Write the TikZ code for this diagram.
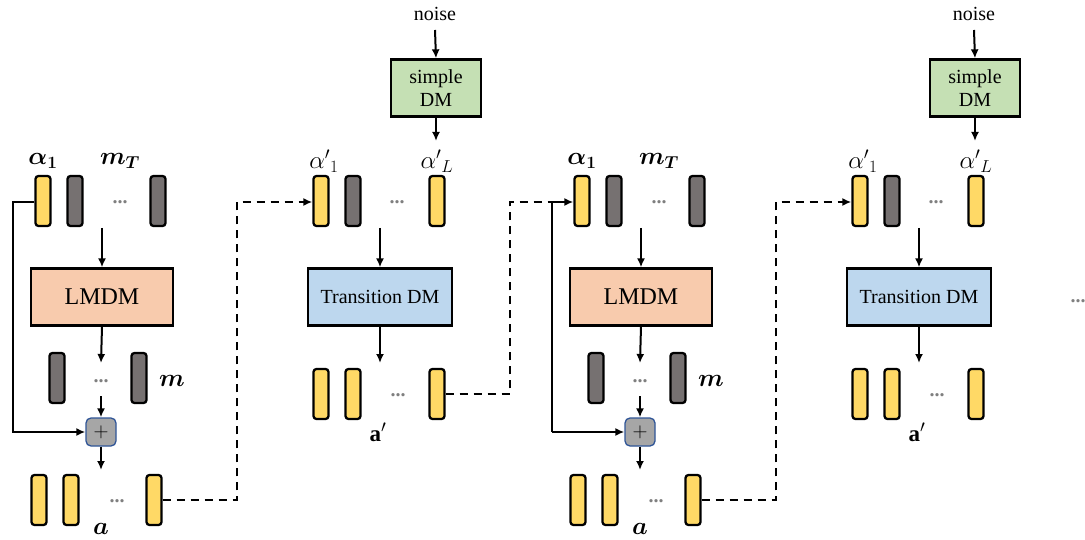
\documentclass[tikz,border=0pt]{standalone}
\usepackage{fontspec}
\usepackage{amsmath}
\usepackage{bm}
\setmainfont{Liberation Serif}
\usetikzlibrary{arrows.meta}
\definecolor{ycol}{HTML}{FFD966}
\definecolor{gcol}{HTML}{767171}
\definecolor{lmdmc}{HTML}{F8CBAD}
\definecolor{tdmc}{HTML}{BDD7EE}
\definecolor{sdmc}{HTML}{C5E0B4}
\definecolor{plusfill}{HTML}{A6A6A6}
\definecolor{plusdraw}{HTML}{2F5597}
\definecolor{dotc}{HTML}{7F7F7F}
\tikzset{
  barbase/.style={draw=black, line width=2.3pt, rounded corners=3pt, minimum width=15pt, minimum height=50pt, inner sep=0pt},
  yelbar/.style={barbase, fill=ycol},
  grybar/.style={barbase, fill=gcol},
  bigbox/.style={draw=black, line width=2.3pt, minimum width=142pt, minimum height=57pt, inner sep=0pt},
  tip/.style={-{Latex[length=9pt,width=8pt]}},
  arr/.style={tip, line width=2pt},
  line/.style={line width=2pt},
  dashconn/.style={line width=2pt, dash pattern=on 8pt off 6pt},
  dotsty/.style={text=dotc, font=\fontsize{20}{20}\selectfont\bfseries, inner sep=0pt},
  lab/.style={font=\fontsize{20}{23}\selectfont, inner sep=0pt},
  mlab/.style={font=\fontsize{23}{26}\selectfont, inner sep=0pt},
  plusbox/.style={draw=plusdraw, fill=plusfill, line width=1.3pt, rounded corners=5pt, minimum width=30pt, minimum height=28pt, inner sep=0pt, font=\fontsize{20}{20}\selectfont}
}
\newcommand\lmblock[2]{%
  \node[yelbar] (aone#1) at ({#2+43},201) {};
  \node[grybar] (mtb#1) at ({#2+75},201) {};
  \node[grybar] (mtc#1) at ({#2+158},201) {};
  \node[dotsty] (dta#1) at ({#2+120},202) {...};
  \node[mlab] (laa#1) at ({#2+43},161) {$\bm{\alpha_1}$};
  \node[mlab] (lmt#1) at ({#2+120},161) {$\bm{m_T}$};
  \node[bigbox, fill=lmdmc, font=\fontsize{24}{26}\selectfont] (lmdm#1) at ({#2+102},297) {LMDM};
  \coordinate (inl#1) at ({#2+102},228);
  \draw[arr] (inl#1) -- (lmdm#1.north);
  \node[grybar] (mba#1) at ({#2+57},378) {};
  \node[grybar] (mbb#1) at ({#2+139},378) {};
  \node[dotsty] (dtb#1) at ({#2+101},381) {...};
  \node[mlab] (lmm#1) at ({#2+172},381) {$\bm{m}$};
  \coordinate (outl#1) at ({#2+101},363);
  \draw[arr] (lmdm#1.south) -- (outl#1);
  \node[plusbox] (plus#1) at ({#2+101},432) {$+$};
  \coordinate (inp#1) at ({#2+101},396);
  \draw[arr] (inp#1) -- (plus#1.north);
  \coordinate (outp#1) at ({#2+101},470);
  \draw[arr] (plus#1.south) -- (outp#1);
  \node[yelbar] (aa#1) at ({#2+39},500) {};
  \node[yelbar] (ab#1) at ({#2+71},500) {};
  \node[yelbar] (ac#1) at ({#2+154},500) {};
  \node[dotsty] (dtc#1) at ({#2+117},501) {...};
  \node[mlab, anchor=south] (laba#1) at ({#2+101},535) {$\bm{a}$};
}
\newcommand\trblock[2]{%
  \node[lab] (noise#1) at ({#2+435},14) {noise};
  \node[draw=black, line width=2.3pt, fill=sdmc, minimum width=90pt, minimum height=57pt, align=center, font=\fontsize{20}{23}\selectfont, inner sep=0pt] (sdm#1) at ({#2+436},88) {simple\\DM};
  \coordinate (nz#1) at ({#2+435},30);
  \draw[arr] (nz#1) -- (sdm#1.north);
  \coordinate (sout#1) at ({#2+436},141);
  \draw[arr] (sdm#1.south) -- (sout#1);
  \node[mlab] (lpa#1) at ({#2+324},161) {${\alpha'}_{1}$};
  \node[mlab] (lpl#1) at ({#2+437},161) {${\alpha'}_{L}$};
  \node[yelbar] (pa#1) at ({#2+321},201) {};
  \node[grybar] (pb#1) at ({#2+353},201) {};
  \node[yelbar] (pc#1) at ({#2+437},201) {};
  \node[dotsty] (dtp#1) at ({#2+397},202) {...};
  \node[bigbox, fill=tdmc, minimum width=144pt, font=\fontsize{20}{23}\selectfont] (tdm#1) at ({#2+380},297) {Transition DM};
  \coordinate (int#1) at ({#2+380},228);
  \draw[arr] (int#1) -- (tdm#1.north);
  \coordinate (outt#1) at ({#2+380},363);
  \draw[arr] (tdm#1.south) -- (outt#1);
  \node[yelbar] (qa#1) at ({#2+321},394) {};
  \node[yelbar] (qb#1) at ({#2+353},394) {};
  \node[yelbar] (qc#1) at ({#2+437},394) {};
  \node[dotsty] (dtq#1) at ({#2+398},395) {...};
  \node[mlab] (lq#1) at ({#2+378},432) {$\mathbf{a}'$};
}
\begin{document}
\begin{tikzpicture}[x=1pt,y=-1pt]
\useasboundingbox (0,0) rectangle (1085,540);
\lmblock{A}{0}
\trblock{B}{0}
\lmblock{C}{539}
\trblock{D}{539}
\node[dotsty] (enddots) at (1078,301) {...};
% left feedback lines
\coordinate (ca) at (13,202);
\coordinate (cb) at (13,432);
\draw[arr] (aoneA.west |- ca) -- (ca) -- (cb) -- (plusA.west);
\coordinate (cc) at (552,202);
\coordinate (cd) at (552,432);
\draw[line] (cc) -- (cd);
\draw[arr] (cd) -- (plusC.west);
% dashed connectors
\coordinate (da) at (237,500);
\coordinate (db) at (237,202);
\draw[dashconn, tip] (acA.east) -- (da) -- (db) -- (paB.west |- db);
\coordinate (dc) at (510,394);
\coordinate (dd) at (510,202);
\draw[dashconn] (qcB.east) -- (dc) -- (dd) -- (cc);
\draw[arr] (cc) -- (aoneC.west |- cc);
\coordinate (de) at (776,500);
\coordinate (df) at (776,202);
\draw[dashconn, tip] (acC.east) -- (de) -- (df) -- (paD.west |- df);
\end{tikzpicture}
\end{document}
